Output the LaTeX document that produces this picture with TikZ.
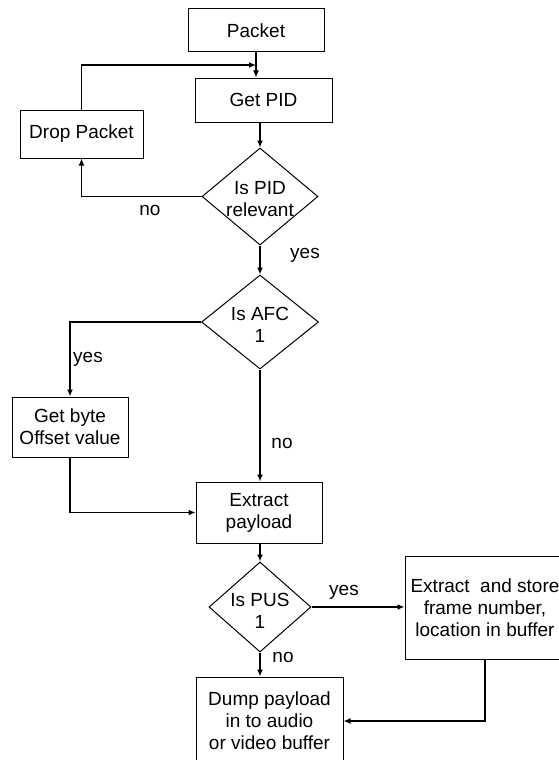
\documentclass[tikz,border=0pt]{standalone}
\usepackage{fontspec}
\setmainfont{Liberation Sans}
\usetikzlibrary{shapes.geometric,arrows.meta,calc}
\begin{document}
\begin{tikzpicture}[x=1pt,y=-1pt,
  every node/.style={font=\fontsize{19}{22}\selectfont},
  box/.style={draw,line width=1pt,inner sep=0pt,align=center},
  decision/.style={draw,diamond,line width=1pt,inner sep=0pt},
  flow/.style={line width=1.6pt,-{Latex[length=7pt,width=6pt]}},
  plain/.style={line width=1.6pt},
  lbl/.style={inner sep=0pt,anchor=base}]
\clip (0,0) rectangle (559,760);
\fill[white] (0,0) rectangle (559,760);

% process boxes
\node[box,minimum width=136pt,minimum height=43pt] (packet) at (256,30.5) {Packet};
\node[box,minimum width=137pt,minimum height=44pt] (getpid) at (263.5,100) {Get PID};
\node[box,minimum width=123pt,minimum height=48pt] (dropp) at (81.5,134) {Drop Packet};
\node[box,minimum width=116pt,minimum height=60pt] (getbyte) at (70,427) {Get byte\\Offset value};
\node[box,minimum width=126pt,minimum height=61pt] (extract) at (259,512.5) {Extract\\payload};
\node[box,minimum width=160pt,minimum height=103pt] (store) at (485,607.5) {Extract\ \ and store\\frame number,\\location in buffer};
\node[box,minimum width=147pt,minimum height=88pt] (dump) at (269.5,721) {Dump payload\\in to audio\\or video buffer};

% decisions
\node[decision,minimum width=116pt,minimum height=97pt,
  label={[align=center,yshift=-3pt]center:Is PID\\relevant}] (d1) at (260,196.5) {};
\node[decision,minimum width=117pt,minimum height=94pt,
  label={[align=center,yshift=-3pt]center:Is AFC\\1}] (d2) at (260,322) {};
\node[decision,minimum width=102pt,minimum height=90pt,
  label={[align=center,yshift=-4pt]center:Is PUS\\1}] (d3) at (260,607) {};

% junction where the dropped-packet loop rejoins
\coordinate (merge) at ($(packet.south)!0.5!(packet.south |- getpid.north)$);

% connectors
\draw[flow] (packet.south) -- (packet.south |- getpid.north);
\draw[flow] (dropp.north) |- (merge);
\draw[flow] (getpid.south -| d1.north) -- (d1.north);
\draw[flow] (d1.west) -| (dropp.south);
\draw[flow] (d1.south) -- (d2.north);
\draw[flow] (d2.west) -| (getbyte.north);
\draw[flow] (d2.south) -- (d2.south |- extract.north);
\draw[flow] (getbyte.south) |- (extract.west);
\draw[flow] (extract.south -| d3.north) -- (d3.north);
\draw[flow] (d3.east) -- (d3.east -| store.west);
\draw[flow] (d3.south) -- (d3.south |- dump.north);
\draw[flow] (store.south) |- (dump.east);

% branch labels
\node[lbl] (no1) at (150,215) {no};
\node[lbl] (yes1) at (305,258) {yes};
\node[lbl] (yes2) at (88,362) {yes};
\node[lbl] (no2) at (282,448) {no};
\node[lbl] (yes3) at (344,595) {yes};
\node[lbl] (no3) at (283,662) {no};
\end{tikzpicture}
\end{document}
